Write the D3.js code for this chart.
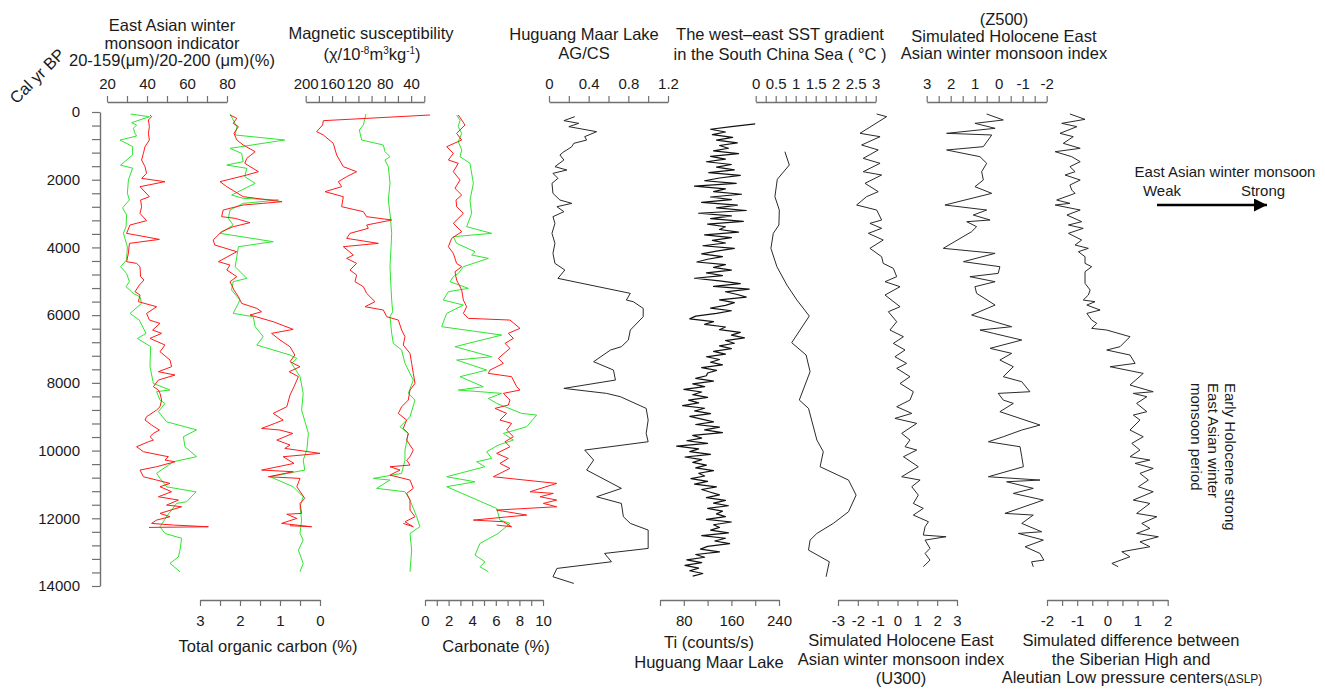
<!DOCTYPE html>
<html lang="en">
<head>
<meta charset="utf-8">
<title>Holocene East Asian winter monsoon records</title>
<style>
  body { margin: 0; background: #fff; }
  svg text { font-family: "Liberation Sans", Arial, sans-serif; fill: #1a1a1a; }
</style>
</head>
<body>
<svg width="1325" height="689"></svg>
<script src="https://d3js.org/d3.v7.min.js"></script>
<script>
// ---- data: [cal yr BP, value] ----
var grainGreen = [[60,31.8],[140,41.2],[315,32.3],[385,34.8],[480,33.2],[630,34],[710,34.8],[830,26.5],[1020,32.8],[1270,32.8],[1570,26.8],[1660,32.8],[2010,30.7],[2400,30.2],[2600,31.2],[2830,27.8],[3040,29.8],[3390,29.5],[3580,28.2],[3980,30.2],[4370,29.8],[4570,26.8],[4770,29.8],[5010,31.2],[5160,29.5],[5360,33.2],[5460,36.5],[5650,37.3],[5950,31.5],[6150,36.2],[6540,39.5],[6690,35.2],[6930,41.8],[7520,41.5],[8020,43.2],[8210,51.5],[8260,44.8],[8510,46.5],[8610,49],[8850,45.7],[9150,49.8],[9390,64.8],[9590,58.2],[9890,59],[10180,64.8],[10330,53.2],[10670,44.8],[10820,46.5],[11070,49.8],[11220,64.5],[11510,59.8],[11560,54.8],[11950,49.8],[12250,46.5],[12450,49],[12590,57.3],[12940,56.5],[13140,55.7],[13330,51.5],[13580,56.5]];

var grainRed = [[89,41.5],[138,42.3],[236,40.7],[433,41.2],[630,40.7],[827,41.2],[1024,39],[1221,38.2],[1418,37.3],[1615,39],[1812,39.8],[1960,37.3],[2058,49],[2206,36.5],[2501,41.2],[2600,36.8],[2797,37.3],[2994,36.5],[3210,39.8],[3338,31.5],[3584,29.8],[3762,46.2],[3880,31.2],[4175,30.7],[4421,29.8],[4471,34.8],[4569,36.5],[4864,36.8],[4963,38.5],[5110,36.2],[5307,34],[5406,36.5],[5603,35.7],[5751,44.8],[5948,39.8],[6145,41.2],[6243,46.5],[6440,42.8],[6538,47.3],[6686,41.5],[6883,49],[7080,46.5],[7326,51.5],[7523,52.3],[7671,45.7],[7769,54],[7917,45.7],[8114,43.2],[8212,45.7],[8311,46.5],[8508,47.3],[8705,46.5],[8803,44.8],[9000,39.8],[9099,39],[9246,42.3],[9394,46.2],[9493,43.2],[9591,41.5],[9690,43.2],[9739,40.7],[9887,34.8],[10034,38.2],[10133,46.5],[10182,50.7],[10280,49],[10330,54],[10477,44.8],[10576,36.5],[10773,38.2],[10871,44.8],[10970,51.5],[11068,46.5],[11216,52.3],[11364,45.7],[11462,55.7],[11610,49.8],[11659,57.3],[11856,46.5],[11954,51.5],[12053,44.8],[12151,42.3],[12200,53.2],[12250,70.7],[12270,41]];

var tocRed = [[89,2.25],[187,2.08],[335,2.17],[433,2.04],[630,2.15],[827,2.08],[975,1.92],[1172,1.62],[1369,1.83],[1516,1.88],[1763,1.54],[1861,1.83],[2058,2.5],[2206,2.33],[2501,1.92],[2649,0.95],[2698,1.42],[2747,1.92],[2895,2.42],[3092,2.46],[3141,2.12],[3269,1.75],[3387,2.17],[3535,2.46],[3781,2.67],[3929,2.63],[4126,2.08],[4421,2.54],[4520,2.25],[4667,2.33],[4864,2.08],[5012,2.25],[5258,2.15],[5455,2.04],[5652,1.96],[5800,1.58],[5899,1.46],[5997,1.75],[6194,1.17],[6420,0.67],[6538,1.21],[6735,1.0],[6932,0.75],[7178,0.63],[7375,0.75],[7523,0.5],[7671,0.77],[7818,0.54],[8114,0.65],[8360,0.75],[8705,0.83],[8902,1.17],[9099,0.92],[9197,1.13],[9345,1.46],[9394,1.0],[9493,0.68],[9690,1.08],[9837,0.75],[9936,0.88],[10083,0],[10182,0.92],[10379,0.65],[10576,1.46],[10625,0.67],[10773,1.29],[10822,0.5],[11068,0.58],[11413,0.38],[11561,0.5],[11856,0.46],[11880,0.83],[12004,0.58],[12151,0.96],[12250,0.21],[12220,0.75]];

var tocGreen = [[59,2.25],[236,2.17],[433,2.08],[679,2.12],[827,0.88],[1073,2.25],[1221,1.96],[1467,1.92],[1566,2.33],[1664,1.83],[1910,1.88],[2107,1.62],[2452,2.21],[2550,1.92],[2600,1.04],[2698,1.92],[2895,2.25],[3141,2.29],[3338,2.17],[3584,2.5],[3830,1.17],[3978,2.04],[4274,2.08],[4569,2.12],[4914,1.83],[5012,2.17],[5258,2.21],[5554,2.0],[5948,2.17],[6046,1.67],[6341,1.62],[6637,1.42],[6883,1.58],[7178,0.75],[7277,0.58],[7425,0.71],[7818,0.5],[8311,0.42],[8803,0.46],[9493,0.29],[9985,0.33],[10280,0.42],[10576,0.38],[10773,1.25],[11068,0.67],[11364,0.42],[11659,0.5],[12053,0.46],[12447,0.5],[12644,0.42],[12939,0.54],[13333,0.42],[13579,0.5]];

var magRed = [[89,11.4],[256,173.2],[384,174.3],[581,183.4],[679,173.2],[926,158.1],[1270,153],[1615,142.9],[1763,122.7],[1910,137.8],[2058,150.5],[2206,145.4],[2353,170.7],[2501,142.9],[2797,145.4],[2944,112.5],[3092,107.5],[3190,69.5],[3338,107.5],[3436,105],[3584,132.8],[3732,137.8],[3880,89.8],[3978,142.9],[4224,127.7],[4323,137.8],[4471,122.7],[4667,132.8],[4815,122.7],[5012,125.2],[5160,112.5],[5357,107.5],[5603,94.8],[5751,110],[5849,82.2],[6046,77.1],[6145,59.4],[6440,54.4],[6637,49.3],[6883,51.9],[7129,41.7],[7425,39.2],[7720,36.7],[8016,34.1],[8212,41.7],[8508,44.3],[8705,54.4],[8902,59.4],[9099,46.8],[9345,51.9],[9493,44.3],[9690,46.8],[9985,36.7],[10182,41.7],[10280,46.8],[10428,41.7],[10477,72.1],[10576,56.9],[10724,72.1],[10871,41.7],[11117,36.7],[11265,46.8],[11462,41.7],[11757,41.7],[11954,34.1],[12102,49.3],[12250,36.7],[12151,51.9]];

var magGreen = [[59,108.5],[384,112.5],[532,118.6],[827,115.1],[975,82.2],[1172,79.7],[1320,72.1],[1418,79.7],[1615,74.6],[2100,72],[2600,74.6],[3100,71.5],[3584,69.5],[4000,70.5],[4569,72.1],[5000,71],[5554,69.5],[5900,68],[6046,72.1],[6538,69.5],[6834,67],[7030,54.4],[7425,49.3],[7917,36.7],[8311,44.3],[8508,34.1],[9000,41.7],[9296,56.9],[9493,44.3],[9985,49.3],[10280,49.3],[10674,54.4],[10822,97.4],[10871,72.1],[11117,92.3],[11216,49.3],[11462,41.7],[11954,31.6],[12250,26.6],[12447,41.7],[12939,39.2],[13579,41.7]];

var carbRed = [[89,2.82],[236,3.11],[384,3.39],[630,2.68],[827,3.11],[1024,1.84],[1221,2.4],[1418,1.98],[1516,2.82],[1763,2.4],[2009,2.97],[2255,2.54],[2452,3.11],[2600,2.63],[2797,2.68],[2994,3.25],[3289,2.4],[3535,3.11],[3732,2.26],[3978,1.98],[4175,2.4],[4471,2.68],[4569,3.11],[4717,2.54],[4963,2.68],[5258,3.11],[5554,3.25],[5751,3.53],[5948,3.25],[6095,3.67],[6145,7.2],[6391,8.05],[6538,7.06],[6686,7.49],[6834,6.78],[6981,7.2],[7277,6.21],[7425,6.64],[7622,5.51],[7720,5.37],[7818,7.34],[8114,7.77],[8212,8.05],[8311,6.64],[8508,7.2],[8656,7.06],[8754,5.93],[8902,6.92],[9099,6.35],[9197,7.34],[9394,6.92],[9591,7.49],[9739,6.78],[9887,7.2],[10083,6.07],[10231,7.06],[10379,6.35],[10526,7.2],[10773,5.79],[10970,11.16],[11216,8.9],[11265,10.87],[11364,9.75],[11462,11.16],[11561,10.03],[11659,11.16],[11757,6.07],[11905,8.62],[12053,4.1],[12102,6.64],[12250,7.34],[12200,6.07]];

var carbGreen = [[89,2.68],[236,2.97],[433,2.82],[630,3.11],[876,2.82],[1122,3.11],[1320,2.97],[1516,3.81],[2107,4.1],[2600,3.81],[2994,3.95],[3387,3.53],[3584,5.65],[3683,2.4],[3880,2.68],[4126,4.24],[4224,3.95],[4323,5.37],[4569,3.25],[4766,2.82],[4864,2.4],[5012,2.12],[5209,3.67],[5307,1.98],[5554,1.55],[5702,3.25],[5948,1.84],[6341,1.41],[6588,6.5],[6932,2.54],[7228,5.65],[7326,2.68],[7622,5.23],[7818,2.97],[8114,4.94],[8212,2.82],[8311,6.5],[8459,5.37],[8606,6.07],[8902,8.19],[8951,9.46],[9296,8.62],[9493,6.64],[9690,7.49],[9837,6.21],[10034,5.23],[10231,5.65],[10330,4.38],[10477,5.08],[10773,1.84],[10921,4.24],[11068,1.84],[11708,6.07],[12053,6.35],[12151,7.2],[12447,6.21],[12742,4.66],[13087,4.24],[13284,5.08],[13431,4.66],[13579,5.37]];

var agcs = [[138,0.26],[256,0.15],[335,0.3],[433,0.2],[581,0.48],[729,0.36],[827,0.38],[926,0.25],[1024,0.23],[1122,0.18],[1172,0.15],[1270,0.11],[1418,0.15],[1615,0.06],[1713,0.18],[1812,0.04],[1960,0.09],[2107,0.03],[2403,0.04],[2600,0.11],[2698,0.23],[2797,0.08],[2944,0.15],[3092,0.04],[3289,0.06],[3584,0.03],[3880,0.06],[4175,0.04],[4471,0.06],[4667,0.16],[4914,0.09],[5357,0.82],[5554,0.78],[5603,0.85],[5800,0.95],[6046,0.95],[6440,0.82],[6735,0.8],[6932,0.73],[7030,0.62],[7375,0.45],[7622,0.65],[7917,0.67],[8163,0.15],[8311,0.58],[8409,0.72],[8754,0.98],[9099,1.0],[9493,0.98],[9739,1.0],[9985,0.36],[10280,0.45],[10576,0.38],[11117,0.73],[11364,0.48],[11561,0.73],[11954,0.75],[12151,0.82],[12348,1.0],[12890,1.0],[13038,0.56],[13284,0.63],[13481,0.08],[13727,0.04],[13924,0.25]];

// Ti counts/s, sampled every 80 yr from 350 cal yr BP
var tiStart = 350, tiStep = 80;
var tiCounts = [200,160,125,150,128,162,135,170,140,155,
  130,172,125,150,118,160,135,165,122,175,
  140,115,168,98,150,130,177,125,160,110,
  170,135,185,105,160,125,180,120,150,140,
  172,115,160,128,150,112,165,135,110,145,
  120,102,150,130,160,118,145,98,140,175,
  130,190,150,170,185,140,165,150,125,160,
  135,100,90,130,115,150,140,175,160,182,
  150,165,140,160,130,150,118,140,125,145,
  110,135,120,118,100,130,95,115,80,110,
  95,120,88,105,78,115,98,125,90,110,
  130,100,140,115,145,95,110,85,120,68,
  105,90,125,82,110,95,118,100,130,105,
  115,92,120,98,135,110,125,140,118,150,
  130,155,120,145,135,150,118,160,130,140,
  125,155,110,150,132,157,120,108,140,100,
  115,85,110,82,105,90,112,95];

var sst = [[1172,0.73],[1566,0.84],[1989,0.54],[2501,0.48],[2895,0.59],[3338,0.58],[3584,0.44],[4027,0.38],[4569,0.53],[5111,0.78],[5554,1.03],[6027,1.34],[6814,0.9],[7178,1.26],[7671,1.36],[8508,1.09],[8754,1.32],[9690,1.53],[10034,1.69],[10477,1.61],[10871,2.32],[11315,2.51],[11807,2.32],[12151,1.94],[12447,1.53],[12644,1.36],[12939,1.32],[13284,1.84],[13727,1.76]];

var u300 = [[59,-1.05],[138,-0.55],[630,-1.89],[729,-0.88],[975,-1.81],[1122,-0.97],[1369,-1.73],[1516,-0.88],[1763,-1.73],[1861,-0.8],[2107,-1.64],[2353,-0.97],[2501,-1.56],[2747,-2.06],[2895,-1.05],[3190,-0.8],[3289,-1.39],[3436,-0.8],[3584,-1.47],[3781,-0.72],[4027,-1.39],[4274,-0.8],[4471,-0.72],[4618,-0.21],[4864,-0.04],[5012,-0.63],[5160,0.13],[5406,-0.63],[5751,0.13],[5899,-0.46],[6194,-0.04],[6440,-0.38],[6637,0.3],[6834,-0.21],[7030,0.38],[7228,-0.13],[7425,0.46],[7572,-0.04],[7818,0.63],[8016,0.13],[8262,0.8],[8508,0.63],[8705,-0.04],[8902,0.72],[9049,-0.13],[9197,0.97],[9493,0.21],[9690,0.63],[9887,0.38],[9985,0.97],[10182,0.3],[10477,1.05],[10773,0.21],[10871,1.14],[11068,0.72],[11315,1.05],[11561,0.8],[11708,1.3],[11905,0.8],[12102,1.56],[12250,1.39],[12496,1.3],[12545,2.45],[12644,1.39],[12890,1.64],[13038,1.39],[13235,1.64],[13432,1.3]];

var z500 = [[59,0.5],[236,-0.19],[335,0.99],[482,0.15],[630,2.17],[679,0.29],[1024,0.64],[1122,2.17],[1320,0.78],[1516,0.5],[1763,0.71],[2009,0.64],[2206,0.99],[2403,0.29],[2747,2.24],[2895,0.5],[3043,1.06],[3190,0.36],[3240,1.33],[3387,0.92],[3535,1.13],[4027,2.31],[4175,0.15],[4421,1.47],[4569,-0.05],[4766,0.02],[4864,1.2],[5012,0.15],[5160,0.99],[5357,0.92],[5702,0.15],[5997,1.13],[6341,-0.54],[6440,0.78],[6538,0.22],[6735,-0.96],[6981,0.36],[7129,-0.54],[7326,-0.05],[7523,-0.61],[7818,-0.19],[7966,-0.96],[8262,-1.3],[8311,0.02],[8508,-0.19],[8606,-0.61],[8852,-0.05],[9246,-1.72],[9394,-0.96],[9591,-0.19],[9739,0.43],[9887,-0.89],[10182,-0.96],[10477,-1.03],[10773,0.43],[10871,-1.72],[10921,-0.33],[11117,-1.44],[11265,-0.61],[11462,-1.86],[11856,-0.26],[11905,-1.44],[12151,-0.96],[12398,-1.79],[12447,-0.82],[12644,-1.86],[12841,-1.1],[13038,-1.72],[13235,-1.88],[13284,-1.37],[13432,-1.44]];

var slp = [[59,-1.24],[217,-0.74],[335,-1.51],[433,-1.01],[630,-1.57],[729,-1.13],[926,-1.46],[1073,-0.9],[1172,-1.73],[1320,-1.18],[1467,-0.9],[1615,-1.24],[1763,-1.07],[1861,-1.4],[2009,-0.9],[2157,-1.24],[2304,-1.18],[2403,-1.07],[2600,-1.68],[2698,-1.24],[2747,-1.73],[2895,-0.9],[3043,-1.34],[3240,-0.85],[3338,-1.29],[3436,-0.8],[3584,-1.29],[3781,-0.85],[3929,-1.07],[4027,-0.63],[4126,-0.96],[4274,-0.74],[4471,-0.74],[4569,-0.52],[4717,-0.74],[5061,-0.74],[5258,-0.57],[5406,-0.63],[5554,-0.8],[5603,-0.41],[5702,-0.68],[5849,-0.24],[5948,-0.68],[6145,-0.52],[6243,-0.35],[6391,-0.52],[6440,-0.02],[6637,0.75],[6932,0.42],[7030,-0.02],[7178,0.75],[7425,0.92],[7523,0.09],[7720,1.19],[8065,0.75],[8262,1.52],[8311,0.86],[8409,1.31],[8606,0.97],[8852,1.31],[8951,0.86],[9099,1.08],[9394,0.75],[9591,1.19],[9788,0.81],[9985,1.08],[10182,0.75],[10280,1.41],[10379,0.92],[10527,1.52],[10674,1.08],[10871,1.36],[11068,1.03],[11216,1.52],[11462,0.86],[11561,1.41],[11856,0.97],[11954,1.64],[12151,1.14],[12299,1.41],[12447,0.97],[12545,1.69],[12693,1.08],[12841,1.41],[12988,0.48],[13136,0.75],[13333,0.15],[13432,0.36]];

// ---- tick labels ----
var ageLabels = [0, 2000, 4000, 6000, 8000, 10000, 12000, 14000];
var grainLabels = [20, 40, 60, 80];
var magLabels = [200, 160, 120, 80, 40];
var agcsLabels = [0, 0.4, 0.8, 1.2];
var sstLabels = [0, 0.5, 1, 1.5, 2, 2.5, 3];
var z500Labels = [3, 2, 1, 0, -1, -2];
var tocLabels = [3, 2, 1, 0];
var carbLabels = [0, 2, 4, 6, 8, 10];
var tiLabels = [80, 160, 240];
var u300Labels = [-3, -2, -1, 0, 1, 2, 3];
var slpLabels = [-2, -1, 0, 1, 2];

// ---- layout ----
var svg = d3.select("svg");
var axisColor = "#707070";
var topY = 102, bottomY = 600;

var y = d3.scaleLinear().domain([0, 14000]).range([112, 586]);

function steps(a, b, s) {
  var n = Math.round((b - a) / s);
  return d3.range(n + 1).map(function(i) { return +(a + i * s).toFixed(3); });
}

function makeAxis(domain, range, step, labels, side) {
  var sc = d3.scaleLinear().domain(domain).range(range);
  var lo = Math.min(domain[0], domain[1]), hi = Math.max(domain[0], domain[1]);
  var ax = (side === "top" ? d3.axisTop(sc) : d3.axisBottom(sc))
    .tickValues(steps(lo, hi, step))
    .tickSize(6).tickSizeOuter(0)
    .tickPadding(side === "top" ? 7 : 9)
    .tickFormat(function(d) {
      return labels.some(function(l) { return Math.abs(l - d) < 1e-6; }) ? String(d) : "";
    });
  var g = svg.append("g")
    .attr("transform", "translate(0," + (side === "top" ? topY : bottomY) + ")")
    .call(ax);
  g.select(".domain").attr("stroke", axisColor).attr("stroke-width", 1.4);
  g.selectAll(".tick line").attr("stroke", axisColor).attr("stroke-width", 1.2);
  g.selectAll(".tick text").attr("fill", "#1a1a1a")
    .style("font-size", "15px").style("font-family", "'Liberation Sans', Arial, sans-serif");
  return sc;
}

var xGrain = makeAxis([20, 80], [107, 227], 10, grainLabels, "top");
var xMag = makeAxis([200, 20], [305.7, 424.3], 20, magLabels, "top");
var xAgcs = makeAxis([0, 1.2], [549, 668], 0.2, agcsLabels, "top");
var xSst = makeAxis([0, 3], [755.7, 875.7], 0.25, sstLabels, "top");
var xZ500 = makeAxis([3, -2], [926.7, 1046.7], 0.5, z500Labels, "top");
var xToc = makeAxis([3, 0], [200, 320], 0.5, tocLabels, "bottom");
var xCarb = makeAxis([0, 10], [425, 543], 1, carbLabels, "bottom");
var xTi = makeAxis([40, 240], [660, 779], 40, tiLabels, "bottom");
var xU300 = makeAxis([-3, 3], [838, 957], 1, u300Labels, "bottom");
var xSlp = makeAxis([-2, 2], [1047, 1167.7], 0.5, slpLabels, "bottom");

// age axis
var yAxis = d3.axisLeft(y)
  .tickValues(d3.range(0, 14001, 400))
  .tickSize(8).tickSizeOuter(0).tickPadding(12)
  .tickFormat(function(d) { return ageLabels.indexOf(d) >= 0 ? String(d) : ""; });
var gy = svg.append("g").attr("transform", "translate(100,0)").call(yAxis);
gy.select(".domain").attr("stroke", axisColor).attr("stroke-width", 1.4);
gy.selectAll(".tick line").attr("stroke", axisColor).attr("stroke-width", 1.2);
gy.selectAll(".tick text").attr("fill", "#1a1a1a")
  .style("font-size", "15px").style("font-family", "'Liberation Sans', Arial, sans-serif");

svg.append("text")
  .attr("transform", "translate(37,76) rotate(-45)")
  .attr("text-anchor", "middle").attr("dy", "0.35em")
  .style("font-size", "16.5px").text("Cal yr BP");

// ---- curves ----
function curve(data, sc, color, w) {
  var line = d3.line()
    .x(function(d) { return sc(d[1]); })
    .y(function(d) { return y(d[0]); });
  svg.append("path").datum(data)
    .attr("fill", "none").attr("stroke", color)
    .attr("stroke-width", w || 1).attr("stroke-linejoin", "round")
    .attr("d", line);
}

var red = "#ff1a1a", green = "#2ee62e", black = "#2a2a2a";
curve(grainGreen, xGrain, green);
curve(grainRed, xGrain, red);
curve(tocGreen, xToc, green);
curve(tocRed, xToc, red);
curve(magGreen, xMag, green);
curve(magRed, xMag, red);
curve(carbGreen, xCarb, green);
curve(carbRed, xCarb, red);
curve(agcs, xAgcs, black);
curve(tiCounts.map(function(v, i) { return [tiStart + i * tiStep, v]; }), xTi, "#111", 1.2);
curve(sst, xSst, black);
curve(u300, xU300, black);
curve(z500, xZ500, black);
curve(slp, xSlp, black);

// ---- titles ----
function label(lines, x, y0, dy, size) {
  var t = svg.append("text").attr("text-anchor", "middle").style("font-size", (size || 16.5) + "px");
  lines.forEach(function(s, i) {
    t.append("tspan").attr("x", x).attr("y", y0 + i * dy).text(s);
  });
  return t;
}

label(["East Asian winter", "monsoon indicator", "20-159(\u03bcm)/20-200 (\u03bcm)(%)"], 172, 31, 17.5);

svg.append("text").attr("x", 371).attr("y", 39).attr("text-anchor", "middle")
  .style("font-size", "16.5px").text("Magnetic susceptibility");
var ms = svg.append("text").attr("x", 372).attr("y", 60).attr("text-anchor", "middle").style("font-size", "16.5px");
ms.append("tspan").text("(\u03c7/10");
ms.append("tspan").attr("dy", -6).style("font-size", "10px").text("-8");
ms.append("tspan").attr("dy", 6).text("m");
ms.append("tspan").attr("dy", -6).style("font-size", "10px").text("3");
ms.append("tspan").attr("dy", 6).text("kg");
ms.append("tspan").attr("dy", -6).style("font-size", "10px").text("-1");
ms.append("tspan").attr("dy", 6).text(")");

label(["Huguang Maar Lake", "AG/CS"], 584, 40, 18.5);
label(["The west\u2013east SST gradient", "in the South China Sea  ( \u00b0C )"], 780, 40, 19.5);
label(["(Z500)", "Simulated Holocene East", "Asian winter monsoon index"], 1004, 25, 17);

label(["Total organic carbon (%)"], 268, 652, 0);
label(["Carbonate (%)"], 496, 652, 0);
label(["Ti (counts/s)", "Huguang Maar Lake"], 709, 648, 20);
label(["Simulated Holocene East", "Asian winter monsoon index", "(U300)"], 901, 646, 19);
label(["Simulated difference between", "the Siberian High and"], 1131, 646, 19);
var sl3 = svg.append("text").attr("x", 1132).attr("y", 683).attr("text-anchor", "middle").style("font-size", "16.5px");
sl3.append("tspan").text("Aleutian Low pressure centers");
sl3.append("tspan").style("font-size", "12px").text("(\u0394SLP)");

// ---- right annotation ----
label(["East Asian winter monsoon"], 1225, 177, 0, 15);
svg.append("text").attr("x", 1162).attr("y", 196).attr("text-anchor", "middle").style("font-size", "15px").text("Weak");
svg.append("text").attr("x", 1263).attr("y", 196).attr("text-anchor", "middle").style("font-size", "15px").text("Strong");
svg.append("defs").append("marker")
  .attr("id", "arrow").attr("viewBox", "0 0 10 10")
  .attr("refX", 10).attr("refY", 5)
  .attr("markerWidth", 6).attr("markerHeight", 5).attr("orient", "auto")
  .attr("markerUnits", "strokeWidth")
  .append("path").attr("d", "M0,0L10,5L0,10z").attr("fill", "#000");
svg.append("line")
  .attr("x1", 1157).attr("x2", 1267).attr("y1", 205).attr("y2", 205)
  .attr("stroke", "#000").attr("stroke-width", 2.6).attr("marker-end", "url(#arrow)");

var rt = svg.append("text").attr("transform", "translate(1225,383) rotate(90)").style("font-size", "15px");
["Early Holocene strong", "East Asian winter", "monsoon period"].forEach(function(s, i) {
  rt.append("tspan").attr("x", 0).attr("y", i * 17).text(s);
});
</script>
</body>
</html>
